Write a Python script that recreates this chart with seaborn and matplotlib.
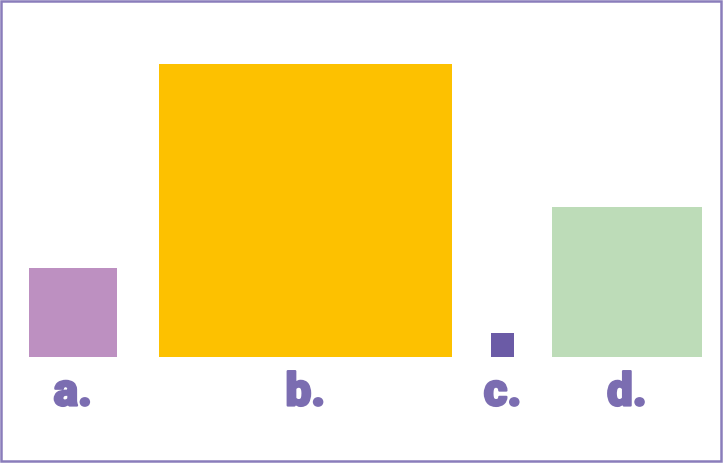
import seaborn as sns
import numpy as np
import pandas as pd
import matplotlib.pyplot as plt
import matplotlib.patheffects as pe
from matplotlib.patches import Rectangle

# areas of the squares (side ~ sqrt(value))
labels = ["a.", "b.", "c.", "d."]
values = [9.15, 100.0, 0.65, 26.2]
colors = ["#BD90C1", "#FDC100", "#6B5BA6", "#BDDCB8"]

df = pd.DataFrame({"label": labels, "value": values, "color": colors})

sns.set_theme(style="white")
plt.rcParams["font.family"] = ["Roboto", "DejaVu Sans"]

W, H = 723, 463
fig = plt.figure(figsize=(W / 100, H / 100), dpi=100)
ax = fig.add_axes([0, 0, 1, 1])
ax.set_xlim(0, W)
ax.set_ylim(H, 0)
ax.axis("off")

# layout (pixels)
scale = 29.27          # px per sqrt(value)
base_y = 357
x0 = 28.5
gaps = [42, 39, 37.5]

df["side"] = scale * np.sqrt(df["value"])
lefts = [x0]
for i in range(1, len(df)):
    lefts.append(lefts[-1] + df["side"][i - 1] + gaps[i - 1])
df["left"] = lefts

txt_col = "#7B6DB1"
for _, r in df.iterrows():
    ax.add_patch(Rectangle((r["left"], base_y - r["side"]), r["side"], r["side"],
                           facecolor=r["color"], edgecolor="none"))
    t = ax.text(r["left"] + r["side"] / 2, 405.5, r["label"], ha="center", va="baseline",
                fontsize=33, fontweight="black", color=txt_col)
    # heavier strokes, closer to the black weight of the original
    t.set_path_effects([pe.withStroke(linewidth=1.6, foreground=txt_col)])

# frame round the picture
ax.add_patch(Rectangle((1.2, 1.2), W - 2.8, H - 2.8, facecolor="none",
                       edgecolor="#8A7DBB", linewidth=1.8, clip_on=False))

fig.savefig("out.png", dpi=100)
